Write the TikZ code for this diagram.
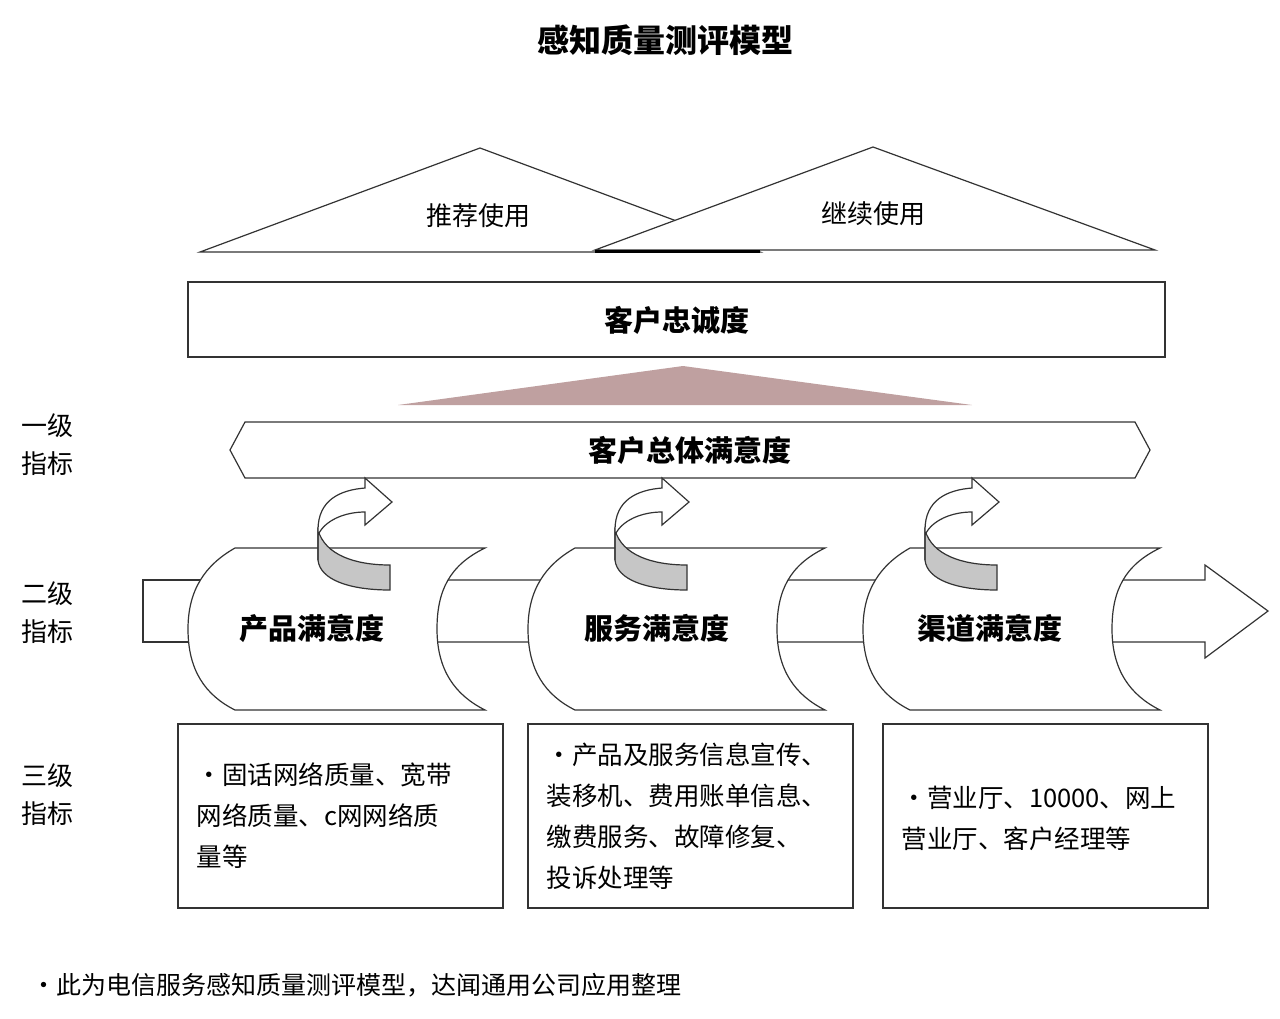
\documentclass[tikz,border=0pt]{standalone}
\usepackage{fontspec}
\setmainfont{Noto Sans CJK SC}
\begin{document}
\begin{tikzpicture}[x=1pt,y=-1pt,line width=1.2pt,
  lbl/.style={font=\fontsize{26}{38}\selectfont,align=left,anchor=west},
  big/.style={font=\fontsize{29}{32}\selectfont\bfseries},
  box/.style={draw=black!80,fill=white},
  cyl/.style={draw=black!80,fill=white},
  bt/.style={font=\fontsize{25.5}{41}\selectfont,align=left,text width=320pt,anchor=north west,inner sep=0pt}]
\useasboundingbox (0,0) rectangle (1280,1018);
\node[font=\fontsize{32}{36}\selectfont\bfseries] (title) at (665,40) {感知质量测评模型};
% triangles
\path[box] (200,252) -- (480,148) -- (760,252) -- cycle;
\path[box] (595,250) -- (873,147) -- (1155,250) -- cycle;
\draw[line width=3pt] (595,251) -- (760,251);
\node[lbl,anchor=center] (t1) at (478,216) {推荐使用};
\node[lbl,anchor=center] (t2) at (873,214) {继续使用};
\draw[box] (188,282) rectangle (1165,357);
\node[big] (loyal) at (677,320) {客户忠诚度};
\fill[fill=gray!40!pink!90!black!90] (398,405) -- (683,366) -- (972,405) -- cycle;
\draw[box] (230,450) -- (245,422) -- (1135,422) -- (1150,450) -- (1135,478) -- (245,478) -- cycle;
\node[big] (total) at (690,450) {客户总体满意度};
% band
\draw[box] (143,580) rectangle (200,642);
\draw[box] (420,580) -- (1205,580) -- (1205,565) -- (1268,611) -- (1205,658) -- (1205,642) -- (420,642);
% cylinders
\foreach \a in {0,340,675}{
  \begin{scope}[xshift=\a]
  \draw[cyl] (235,548) -- (485,548) .. controls (450,565) and (437,590) .. (437,629) .. controls (437,670) and (455,695) .. (485,710) -- (235,710) .. controls (205,695) and (188,670) .. (188,629) .. controls (188,590) and (205,565) .. (235,548) -- cycle;
  \end{scope}}
\foreach \a in {0,297,607}{
  \begin{scope}[xshift=\a]
  \draw[black!80,fill=gray!45] (318,530) .. controls (325,555) and (355,565) .. (390,565) -- (390,590) .. controls (350,590) and (320,580) .. (318,560) -- cycle;
  \draw[black!80,fill=white] (318,560) -- (318,530) .. controls (318,500) and (340,490) .. (365,488) -- (365,478) -- (392,502) -- (365,525) -- (365,512) .. controls (345,512) and (325,520) .. (318,535);
  \end{scope}}
\node[big] (p) at (312,628) {产品满意度};
\node[big] (s) at (657,628) {服务满意度};
\node[big] (q) at (990,628) {渠道满意度};
% boxes
\draw[box] (178,724) rectangle (503,908);
\draw[box] (528,724) rectangle (853,908);
\draw[box] (883,724) rectangle (1208,908);
\node[bt] (b1) at (196,762) {•固话网络质量、宽带\\网络质量、c网网络质\\量等};
\node[bt] (b2) at (546,742) {•产品及服务信息宣传、\\装移机、费用账单信息、\\缴费服务、故障修复、\\投诉处理等};
\node[bt] (b3) at (901,785) {•营业厅、10000、网上\\营业厅、客户经理等};
% left labels
\node[lbl] (l1) at (18,445) {一级\\指标};
\node[lbl] (l2) at (18,613) {二级\\指标};
\node[lbl] (l3) at (18,795) {三级\\指标};
\node[lbl,font=\fontsize{25}{30}\selectfont] (foot) at (28,985) {•此为电信服务感知质量测评模型，达闻通用公司应用整理};
\end{tikzpicture}
\end{document}
